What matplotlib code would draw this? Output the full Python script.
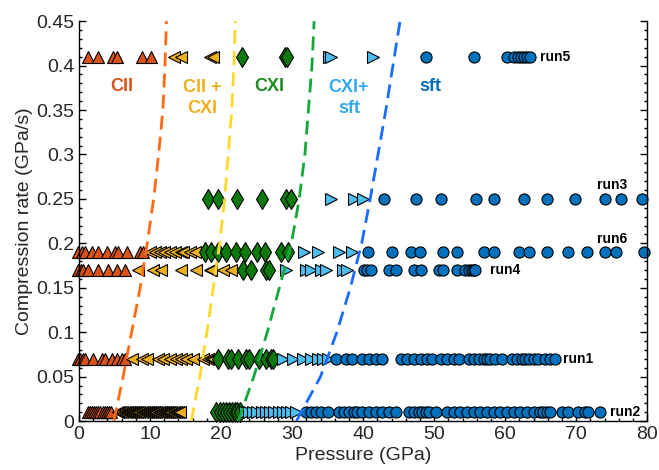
import numpy as np
import matplotlib
matplotlib.use("Agg")
import matplotlib.pyplot as plt
from matplotlib.ticker import MultipleLocator, FormatStrFormatter

plt.rcParams["font.family"] = ["Liberation Sans", "DejaVu Sans"]

# phase colours (MATLAB defaults)
c_cii = "#D95319"
c_ciicxi = "#EDB120"
c_cxi = "#0B7A0B"
c_cxisft = "#4DBEEE"
c_sft = "#0072BD"

# run rates (GPa/s)
rate_run5 = 0.41
rate_run3 = 0.25
rate_run6 = 0.19
rate_run4 = 0.17
rate_run1 = 0.07
rate_run2 = 0.01

# pressures (GPa) per phase for each run
run5_cii = [1.3, 2.6, 4.8, 5.3, 8.8, 10.1]
run5_ciicxi = [13.4, 14.3, 18.4, 18.8]
run5_cxi = [22.9, 29.0, 29.3]
run5_cxisft = [35.2, 35.5, 41.4]
run5_sft = [48.8, 55.6, 60.3, 61.2, 61.8, 62.3, 62.6, 63.1, 63.5]

run3_cii = []
run3_ciicxi = []
run3_cxi = [18.2, 19.5, 22.2, 25.7, 29.2, 29.8]
run3_cxisft = [35.5, 38.7, 40.0]
run3_sft = [42.9, 47.4, 50.9, 55.9, 58.4, 62.7, 65.9, 69.9, 74.1, 76.3, 79.3]

run6_cii = [-0.1, 0.4, 0.8, 1.8, 2.7, 3.9, 5.1, 5.5, 6.7, 8.6, 9.0]
run6_ciicxi = [10.0, 10.7, 11.4, 12.0, 12.8, 13.5, 14.3, 14.6, 15.6, 16.3]
run6_cxi = [17.7, 18.6, 19.6, 20.7, 22.1, 23.3, 25.1, 26.2, 28.4, 29.4]
run6_cxisft = [31.7, 33.6, 36.6, 38.5]
run6_sft = [40.7, 44.0, 46.7, 48.0, 51.2, 53.2, 57.0, 58.4, 61.9, 63.3,
            65.9, 68.8, 71.5, 74.1, 75.6, 79.6]

run4_cii = [-0.1, 0.3, 0.6, 1.3, 2.7, 4.1, 5.3, 6.5]
run4_ciicxi = [8.3, 10.4, 11.6, 14.4, 16.5, 18.4, 18.6, 20.3, 21.4]
run4_cxi = [23.1, 24.2, 26.3, 26.8]
run4_cxisft = [29.2, 31.9, 32.7, 34.1, 34.8, 37.1, 37.8]
run4_sft = [40.1, 40.6, 41.1, 43.6, 44.7, 47.2, 48.1, 50.7, 51.2, 53.2,
            54.4, 54.9, 55.3, 55.6, 55.8]

run1_cii = [-0.1, 0.1, 0.5, 0.8, 2.0, 3.2, 3.6, 4.6, 5.3, 6.0, 6.5]
run1_ciicxi = [7.4, 8.8, 9.5, 11.1, 11.8, 12.8, 13.7, 14.4, 15.1, 16.0,
               17.4, 18.1, 18.6, 18.8]
run1_cxi = [19.6, 21.0, 21.4, 22.4, 23.5, 24.0, 25.4, 26.3, 27.0, 27.3]
run1_cxisft = [28.7, 30.1, 31.5, 32.7, 33.6, 34.3, 35.0]
run1_sft = [36.2, 37.6, 38.5, 39.9, 40.8, 41.8, 42.7, 45.3, 46.2, 47.2,
            48.1, 49.0, 49.7, 50.9, 51.8, 52.8, 53.5, 54.9, 55.6, 56.3,
            57.0, 57.4, 57.9, 58.6, 59.5, 61.0, 61.7, 62.4, 62.8, 63.3,
            64.0, 64.7, 65.6, 66.3, 67.0]

run2_cii = [1.2, 1.5, 1.8, 2.1, 2.4, 2.7, 3.0, 3.3, 3.6, 3.9, 4.2, 4.5]
run2_ciicxi = [5.5, 5.8, 6.1, 6.4, 6.7, 7.0, 7.3, 7.6, 7.9, 8.2, 8.5, 8.8,
               9.1, 9.4, 9.7, 10.0, 10.3, 10.6, 10.9, 11.2, 11.5, 11.8,
               12.1, 12.4, 12.7, 13.0, 13.3, 13.6, 13.9, 14.2]
run2_cxi = [19.3, 19.8, 20.3, 20.7, 21.1, 21.5, 21.9, 22.3, 22.6]
run2_cxisft = [23.3, 23.9, 24.5, 25.1, 25.7, 26.3, 26.9, 27.5, 28.1, 28.7,
               29.3, 29.9, 30.6]
run2_sft = [32.0, 32.7, 33.4, 34.1, 35.0, 36.6, 37.3, 38.0, 38.7, 39.2,
            39.9, 40.8, 41.8, 42.7, 43.6, 44.6, 46.5, 47.2, 47.9, 48.3,
            48.8, 49.3, 50.2, 51.8, 52.8, 53.7, 54.6, 55.6, 56.5, 57.4,
            58.4, 59.3, 60.3, 61.2, 62.1, 63.1, 64.0, 64.9, 65.4, 65.9,
            66.3, 68.0, 68.9, 70.3, 71.3, 71.7, 73.4]

# phase boundaries (rate -> pressure)
bnd_rate = [0, 0.05, 0.1, 0.15, 0.2, 0.25, 0.3, 0.35, 0.4, 0.45]
bnd_cii = [4.9, 6.2, 7.4, 8.6, 9.6, 10.5, 11.2, 11.8, 12.1, 12.3]
bnd_ciicxi = [15.8, 17.0, 18.0, 18.9, 19.8, 20.5, 21.0, 21.5, 21.8, 22.0]
bnd_cxi = [22.4, 24.6, 26.5, 28.2, 29.9, 31.0, 31.8, 32.3, 32.8, 33.1]
bnd_cxisft = [30.6, 34.0, 36.3, 38.2, 39.8, 41.0, 42.1, 43.2, 44.2, 45.2]

runs = [
    ("run5", rate_run5, run5_cii, run5_ciicxi, run5_cxi, run5_cxisft, run5_sft),
    ("run3", rate_run3, run3_cii, run3_ciicxi, run3_cxi, run3_cxisft, run3_sft),
    ("run6", rate_run6, run6_cii, run6_ciicxi, run6_cxi, run6_cxisft, run6_sft),
    ("run4", rate_run4, run4_cii, run4_ciicxi, run4_cxi, run4_cxisft, run4_sft),
    ("run1", rate_run1, run1_cii, run1_ciicxi, run1_cxi, run1_cxisft, run1_sft),
    ("run2", rate_run2, run2_cii, run2_ciicxi, run2_cxi, run2_cxisft, run2_sft),
]
run_label_pos = {"run5": (64.9, 0.41), "run3": (72.9, 0.266), "run6": (73.0, 0.205),
                 "run4": (57.9, 0.17), "run1": (68.2, 0.07), "run2": (74.8, 0.01)}

styles = [("^", c_cii, 9), ("<", c_ciicxi, 9), ("d", c_cxi, 10),
          (">", c_cxisft, 9), ("o", c_sft, 8)]

fig = plt.figure(figsize=(6.59, 4.70), dpi=100)
ax = fig.add_axes([0.12, 0.104, 0.862, 0.851])

for name, r, *phases in runs:
    for vals, (mk, col, ms) in zip(phases, styles):
        if len(vals) == 0:
            continue
        ax.plot(vals, [r] * len(vals), linestyle="none", marker=mk, markersize=ms,
                markerfacecolor=col, markeredgecolor="black", markeredgewidth=0.8,
                clip_on=False, zorder=2)
    lx, ly = run_label_pos[name]
    ax.text(lx, ly, name, fontsize=10, fontweight="bold", ha="left", va="center")

dash = (0, (5, 2.6))
ax.plot(bnd_cii, bnd_rate, color="#FF6A13", lw=2, linestyle=dash, zorder=3)
ax.plot(bnd_ciicxi, bnd_rate, color="#FFD92A", lw=2, linestyle=dash, zorder=3)
ax.plot(bnd_cxi, bnd_rate, color="#14A83B", lw=2, linestyle=dash, zorder=3)
ax.plot(bnd_cxisft, bnd_rate, color="#1A6BFF", lw=2, linestyle=dash, zorder=3)

ax.text(6.0, 0.377, "CII", color=c_cii, fontsize=13, fontweight="bold", ha="center", va="center")
ax.text(17.4, 0.364, "CII +\nCXI", color=c_ciicxi, fontsize=13, fontweight="bold",
        ha="center", va="center", linespacing=1.3)
ax.text(26.8, 0.377, "CXI", color="#1E8C1E", fontsize=13, fontweight="bold", ha="center", va="center")
ax.text(38.0, 0.364, "CXI+\nsft", color="#33A8F2", fontsize=13, fontweight="bold",
        ha="center", va="center", linespacing=1.3)
ax.text(49.5, 0.377, "sft", color=c_sft, fontsize=13, fontweight="bold", ha="center", va="center")

ax.set_xlim(0, 80)
ax.set_ylim(0, 0.45)
ax.xaxis.set_major_locator(MultipleLocator(10))
ax.xaxis.set_minor_locator(MultipleLocator(2))
ax.yaxis.set_major_locator(MultipleLocator(0.05))
ax.yaxis.set_minor_locator(MultipleLocator(0.01))
ax.yaxis.set_major_formatter(FormatStrFormatter("%g"))
ax.spines["top"].set_visible(False)
for s in ["left", "bottom", "right"]:
    ax.spines[s].set_linewidth(1.0)
ax.tick_params(which="both", direction="in", left=True, right=True, bottom=True, top=False,
               labelsize=14, labelcolor="#262626", width=1.0)
ax.tick_params(which="major", length=5)
ax.tick_params(which="minor", length=2.5)

ax.set_xlabel("Pressure (GPa)", fontsize=14, color="#262626", labelpad=3)
ax.set_ylabel("Compression rate (GPa/s)", fontsize=14, color="#262626", labelpad=2)

fig.savefig("out.png", dpi=100)
